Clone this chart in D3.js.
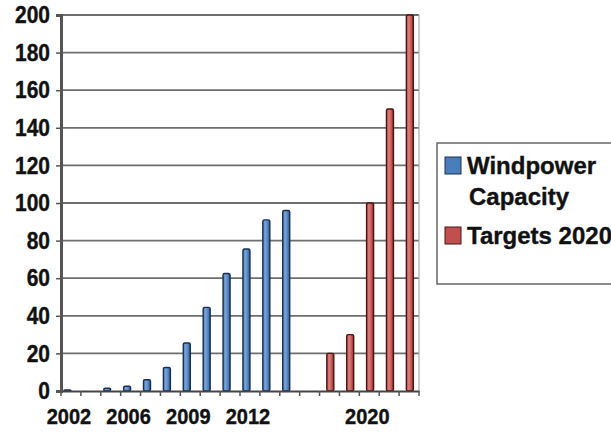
<!DOCTYPE html>
<html>
<head>
<meta charset="utf-8">
<script src="https://cdn.jsdelivr.net/npm/d3@7"></script>
<style>
  html, body { margin: 0; padding: 0; background: #fff; }
  svg { display: block; }
  text { font-family: "Liberation Sans", Arial, sans-serif; font-weight: bold; fill: #111;
         stroke: #111; stroke-width: 0.35px; }
</style>
</head>
<body>
<svg id="chart" width="611" height="432"></svg>
<script>
// Category slots along the x axis (only some carry a visible label)
const categories = ["2002","2003","2004","2006","2007","2008","2009","2010","2011",
                    "2012","2013","2014","2015","2016","2018","2020","2025","2030"];
const tickLabels = ["2002","","","2006","","","2009","","","2012","","","","","","2020","",""];

// Installed wind power capacity (GW)
const capacity = [0.5, null, 1.5, 2.5, 6, 12.5, 25.5, 44.5, 62.5, 75.5, 91, 96,
                  null, null, null, null, null, null];
// Capacity targets
const targets  = [null, null, null, null, null, null, null, null, null, null, null, null,
                  null, 20, 30, 100, 150, 200];

const seriesNames = ["Windpower Capacity", "Targets 2020"];
const yTicks = [0, 20, 40, 60, 80, 100, 120, 140, 160, 180, 200];

const svg = d3.select("#chart");
const plot = { left: 61, right: 419, top: 15, bottom: 391 };
const textStretch = "scale(1,1.1)";

const x = d3.scaleBand()
  .domain(d3.range(categories.length))
  .range([plot.left, plot.right]);

const y = d3.scaleLinear()
  .domain([0, 200])
  .range([plot.bottom, plot.top]);

// Horizontal offset of each series inside its category slot
const seriesOffset = d3.scaleOrdinal().domain(seriesNames).range([-3.5, 0.8]);
const barW = 7;

// Cylinder-like shading gradients
const defs = svg.append("defs");
function gradient(id, dark, mid, light) {
  const g = defs.append("linearGradient").attr("id", id)
    .attr("x1", "0%").attr("x2", "100%").attr("y1", "0%").attr("y2", "0%");
  g.append("stop").attr("offset", "0%").attr("stop-color", mid);
  g.append("stop").attr("offset", "35%").attr("stop-color", light);
  g.append("stop").attr("offset", "75%").attr("stop-color", mid);
  g.append("stop").attr("offset", "100%").attr("stop-color", dark);
}
gradient("gBlue", "#2c4f7e", "#4a7ebb", "#79a4d8");
gradient("gRed", "#7a2826", "#c0504d", "#d9807d");

// Gridlines
svg.append("g")
  .selectAll("line")
  .data(yTicks.filter(d => d > 0))
  .join("line")
  .attr("x1", plot.left).attr("x2", plot.right)
  .attr("y1", d => y(d)).attr("y2", d => y(d))
  .attr("stroke", "#6e6e6e").attr("stroke-width", 1.8);

// Right border of plot area
svg.append("line")
  .attr("x1", plot.right).attr("x2", plot.right)
  .attr("y1", plot.top).attr("y2", plot.bottom)
  .attr("stroke", "#a8a8a8").attr("stroke-width", 1.2);

// Bars
function drawBars(values, name, fillId, stroke) {
  const g = svg.append("g");
  const data = values.map((v, i) => ({ i, v })).filter(d => d.v != null);
  const cx = d => x(d.i) + x.bandwidth() / 2 + seriesOffset(name);
  g.selectAll("rect")
    .data(data)
    .join("rect")
    .attr("x", d => cx(d) - barW / 2)
    .attr("y", d => y(d.v))
    .attr("width", barW)
    .attr("height", d => y(0) - y(d.v))
    .attr("rx", 1.5)
    .attr("fill", `url(#${fillId})`)
    .attr("stroke", stroke)
    .attr("stroke-width", 1.4);
}
drawBars(capacity, seriesNames[0], "gBlue", "#1a2f50");
drawBars(targets, seriesNames[1], "gRed", "#4a1514");

// Y axis
const yAxis = svg.append("g")
  .attr("transform", `translate(${plot.left},0)`)
  .call(d3.axisLeft(y).tickValues(yTicks).tickSize(5).tickPadding(6).tickFormat(d3.format("d")));
yAxis.select(".domain").attr("stroke", "#555").attr("stroke-width", 3);
yAxis.selectAll(".tick line").attr("stroke", "#555").attr("stroke-width", 1.5);
yAxis.selectAll(".tick text")
  .style("font-size", "21px").attr("fill", "#111")
  .attr("dy", "0.33em")
  .attr("transform", textStretch);

// X axis
const xAxis = svg.append("g")
  .attr("transform", `translate(0,${plot.bottom})`)
  .call(d3.axisBottom(x).tickSize(0).tickPadding(0).tickFormat(i => tickLabels[i]));
xAxis.select(".domain").attr("stroke", "#444").attr("stroke-width", 2);
xAxis.selectAll(".tick text")
  .style("font-size", "20px").attr("fill", "#111")
  .attr("x", -2).attr("y", 0).attr("dy", 0)
  .attr("transform", `translate(0,32.5) ${textStretch}`);
// Category boundary ticks
svg.append("g")
  .selectAll("line")
  .data(d3.range(categories.length + 1))
  .join("line")
  .attr("x1", i => plot.left + i * x.step())
  .attr("x2", i => plot.left + i * x.step())
  .attr("y1", plot.bottom).attr("y2", plot.bottom + 5)
  .attr("stroke", "#555").attr("stroke-width", 1.5);

// Legend
const legend = svg.append("g");
legend.append("rect")
  .attr("x", 437).attr("y", 143).attr("width", 200).attr("height", 141)
  .attr("fill", "#fff").attr("stroke", "#666").attr("stroke-width", 1.5);
const legendItems = [
  { name: seriesNames[0], lines: ["Windpower", "Capacity"], fill: "#4a7ebb", stroke: "#1a2f50", y: 157 },
  { name: seriesNames[1], lines: ["Targets 2020"], fill: "#c0504d", stroke: "#4a1514", y: 227 }
];
legendItems.forEach(item => {
  legend.append("rect")
    .attr("x", 445).attr("y", item.y).attr("width", 16).attr("height", 17)
    .attr("fill", item.fill).attr("stroke", item.stroke).attr("stroke-width", 1);
  item.lines.forEach((ln, k) => {
    legend.append("text")
      .attr("x", k === 0 ? 467 : 469)
      .attr("y", item.y + 17 + k * 31)
      .style("font-size", "24px")
      .text(ln);
  });
});
</script>
</body>
</html>
